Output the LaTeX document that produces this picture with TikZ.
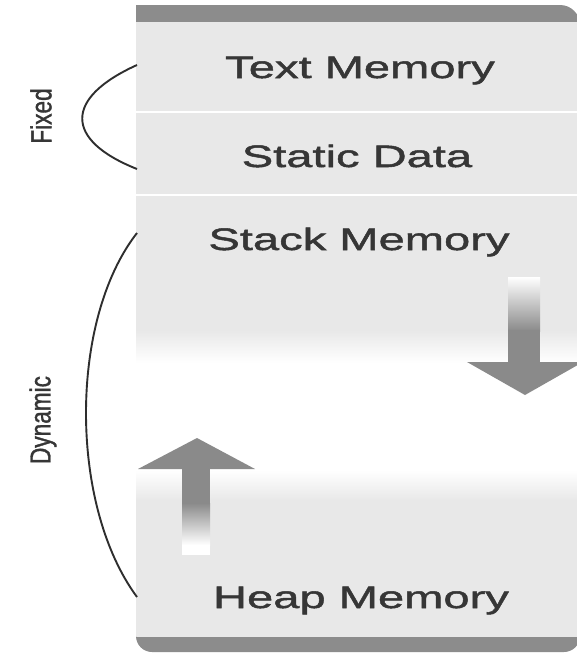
\documentclass[tikz,border=0pt]{standalone}
\usepackage{fontspec}
\setmainfont{Liberation Sans}
\newfontfamily\labfont[FakeStretch=1.52,FakeBold=1.6]{Liberation Sans}
\newfontfamily\sidefont[FakeStretch=0.78,FakeBold=1.2]{Liberation Sans}
\definecolor{panel}{HTML}{E8E8E8}
\definecolor{bar}{HTML}{8C8C8C}
\definecolor{arrowgray}{HTML}{8A8A8A}
\definecolor{ink}{HTML}{363636}
\definecolor{curve}{HTML}{2E2E2E}
\tikzset{
  seglabel/.style={font=\labfont\fontsize{31}{31}\selectfont, text=ink, anchor=base, inner sep=0pt},
  sidelabel/.style={font=\sidefont\fontsize{29}{29}\selectfont, text=ink, rotate=90, inner sep=0pt},
  brace/.style={draw=curve, line width=1.9pt},
  sep/.style={draw=white, line width=2pt}
}
\begin{document}
\begin{tikzpicture}[x=1pt,y=-1pt]
\useasboundingbox (0,0) rectangle (576,653);
\fill[white] (0,0) rectangle (576,653);
% top part
\fill[bar] (136,195) -- (136,5) [rounded corners=20pt] -- (580,5) [sharp corners] -- (580,195) -- cycle;
\fill[panel] (136,22) rectangle (580,195);
% stack part
\fill[panel] (136,195) rectangle (580,331);
\shade[top color=panel, bottom color=white] (136,330) rectangle (580,363);
% heap part
\shade[top color=white, bottom color=panel] (136,470) rectangle (580,501);
\fill[panel] (136,500) rectangle (580,637);
\fill[bar] (136,637) [rounded corners=16pt] -- (136,652) -- (580,652) [sharp corners] -- (580,637) -- cycle;
% separators
\draw[sep] (136,112) -- (580,112);
\draw[sep] (136,195) -- (580,195);
% down arrow
\shade[top color=white, bottom color=arrowgray] (508,277) rectangle (540,331);
\fill[arrowgray] (508,330) rectangle (540,363);
\fill[arrowgray] (467,362) -- (583,362) -- (525,395) -- cycle;
% up arrow
\fill[arrowgray] (138,469) -- (255,469) -- (197,438) -- cycle;
\fill[arrowgray] (182,468) rectangle (210,504);
\shade[top color=arrowgray, bottom color=white] (182,503) rectangle (210,545);
\fill[white] (182,545) rectangle (210,555);
% labels
\node[seglabel] (text) at (360,78) {Text Memory};
\node[seglabel] (static) at (357,167) {Static Data};
\node[seglabel] (stack) at (359,250) {Stack Memory};
\node[seglabel] (heap) at (361,608) {Heap Memory};
\node[sidelabel] (fixed) at (41,116) {Fixed};
\node[sidelabel] (dynamic) at (43,420) {Dynamic};
% braces
\coordinate (f1) at (137,65);
\coordinate (f2) at (137,169);
\coordinate (d1) at (137,233);
\coordinate (d2) at (137,597);
\draw[brace] (f1) .. controls (64,98) and (64,140) .. (f2);
\draw[brace] (d1) .. controls (69,320) and (69,505) .. (d2);
\end{tikzpicture}
\end{document}
